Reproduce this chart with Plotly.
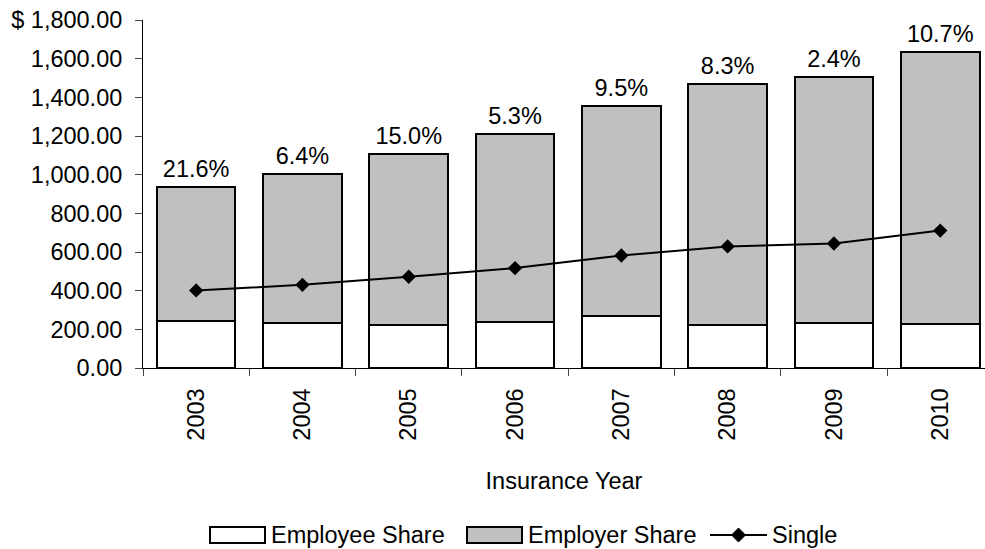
import plotly.graph_objects as go

years = ["2003", "2004", "2005", "2006", "2007", "2008", "2009", "2010"]
employee_share = [244, 232, 222, 239, 270, 224, 233, 227]
employer_share = [691, 772, 884, 970, 1087, 1247, 1271, 1409]
single = [401, 430, 472, 517, 582, 629, 644, 711]
pct_labels = ["21.6%", "6.4%", "15.0%", "5.3%", "9.5%", "8.3%", "2.4%", "10.7%"]
y_ticks = [0, 200, 400, 600, 800, 1000, 1200, 1400, 1600, 1800]
y_ticktext = ["0.00", "200.00", "400.00", "600.00", "800.00", "1,000.00",
              "1,200.00", "1,400.00", "1,600.00", "$ 1,800.00"]
series_names = ["Employee Share", "Employer Share", "Single"]

totals = [a + b for a, b in zip(employee_share, employer_share)]

FONT = "Arial, Liberation Sans, sans-serif"
FS = 23.5
W, H = 985, 549
ML, MR, MT, MB = 143, 0, 20, 181
PW, PH = W - ML - MR, H - MT - MB


def px(x):
    return (x - ML) / PW


def py(y):
    return (H - MB - y) / PH


fig = go.Figure()
fig.add_trace(go.Bar(
    x=years, y=employee_share, name=series_names[0],
    marker=dict(color="white", line=dict(color="black", width=2)),
))
fig.add_trace(go.Bar(
    x=years, y=employer_share, name=series_names[1],
    marker=dict(color="#c0c0c0", line=dict(color="black", width=2)),
))
fig.add_trace(go.Scatter(
    x=years, y=single, name=series_names[2], mode="lines+markers",
    line=dict(color="black", width=2),
    marker=dict(symbol="diamond", size=11, color="black"),
))
fig.add_trace(go.Scatter(
    x=years, y=totals, text=pct_labels, mode="markers+text",
    marker=dict(size=5, color="rgba(0,0,0,0)"),
    textposition="top center", textfont=dict(family=FONT, size=FS, color="black"),
    showlegend=False, hoverinfo="skip", cliponaxis=False,
))

# custom legend (wide swatches as in the reference)
shapes = []
annotations = []
leg_y = 535
swatches = [(210, "white"), (467, "#c0c0c0")]
for (x0, col), name in zip(swatches, series_names[:2]):
    shapes.append(dict(type="rect", xref="paper", yref="paper",
                       x0=px(x0), x1=px(x0 + 55), y0=py(leg_y + 8), y1=py(leg_y - 8),
                       fillcolor=col, line=dict(color="black", width=2)))
    annotations.append(dict(text=name, xref="paper", yref="paper",
                            x=px(x0 + 59), y=py(leg_y), xanchor="left", yanchor="middle",
                            showarrow=False, font=dict(size=FS)))
shapes.append(dict(type="line", xref="paper", yref="paper",
                   x0=px(710), x1=px(767), y0=py(leg_y), y1=py(leg_y),
                   line=dict(color="black", width=2)))
shapes.append(dict(type="path", xref="paper", yref="paper",
                   xsizemode="pixel", ysizemode="pixel",
                   xanchor=px(738.5), yanchor=py(leg_y),
                   path="M -7 0 L 0 7 L 7 0 L 0 -7 Z",
                   fillcolor="black", line=dict(color="black", width=1)))
annotations.append(dict(text=series_names[2], xref="paper", yref="paper",
                        x=px(770), y=py(leg_y), xanchor="left", yanchor="middle",
                        showarrow=False, font=dict(size=FS)))

xr = [-0.5, 7.421]
fig.update_layout(
    width=W, height=H,
    margin=dict(l=ML, r=MR, t=MT, b=MB),
    paper_bgcolor="white", plot_bgcolor="white",
    barmode="stack", bargap=0.26,
    font=dict(family=FONT, size=FS, color="black"),
    showlegend=False,
    shapes=shapes, annotations=annotations,
    xaxis=dict(
        type="category", range=xr, tickson="boundaries",
        ticks="outside", ticklen=7, tickcolor="#444", tickwidth=1,
        showline=True, linecolor="black", linewidth=1,
        tickangle=-90, ticklabelstandoff=10, showgrid=False, zeroline=False,
        title=dict(text="Insurance Year", standoff=32, font=dict(size=FS)),
    ),
    xaxis2=dict(
        overlaying="x", range=xr, tickmode="array",
        tickvals=[-0.5, 0.5, 1.5, 2.5, 3.5, 4.5, 5.5, 6.5],
        ticks="inside", ticklen=7, tickcolor="#444", tickwidth=1,
        showticklabels=False, showgrid=False, zeroline=False, showline=False,
    ),
    yaxis=dict(
        range=[0, 1800], tickmode="array", tickvals=y_ticks, ticktext=y_ticktext,
        ticks="outside", ticklen=7, tickcolor="#444", tickwidth=1,
        showline=True, linecolor="black", linewidth=1,
        showgrid=False, zeroline=False, ticklabelstandoff=8,
    ),
    yaxis2=dict(
        overlaying="y", range=[0, 1800], tickmode="array", tickvals=y_ticks,
        ticks="inside", ticklen=8, tickcolor="#444", tickwidth=1,
        showticklabels=False, showgrid=False, zeroline=False, showline=False,
    ),
)

fig.write_html("out.html", config={"displayModeBar": False},
               post_script="document.body.style.margin='0';")
